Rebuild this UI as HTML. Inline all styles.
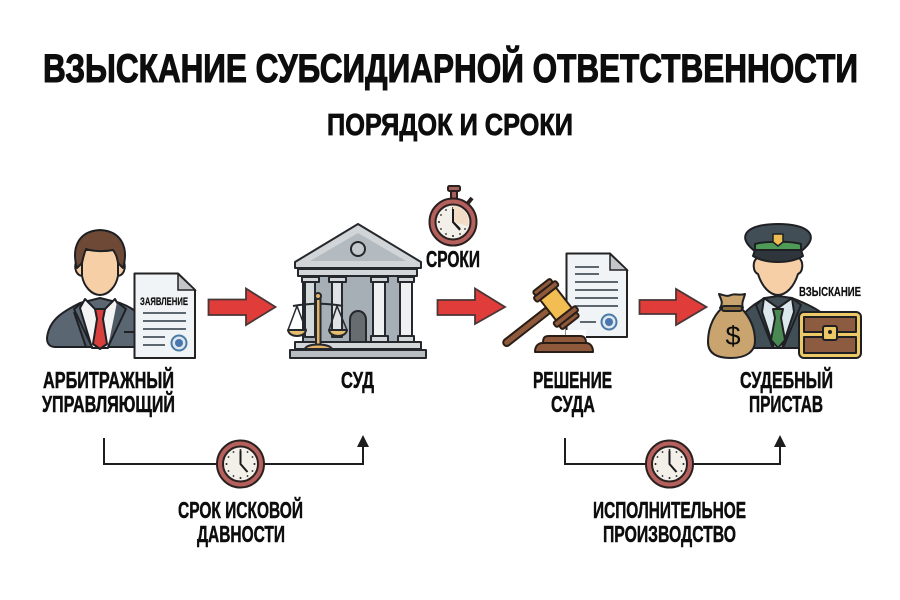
<!DOCTYPE html>
<html lang="ru"><head><meta charset="utf-8"><title>Взыскание субсидиарной ответственности</title>
<style>html,body{margin:0;padding:0;background:#fff}svg{display:block}
text{font-family:"Liberation Sans",sans-serif;font-weight:700;fill:#0d0d0d;stroke:#0d0d0d;stroke-width:.5px}</style></head>
<body>
<svg xmlns="http://www.w3.org/2000/svg" width="900" height="600" viewBox="0 0 900 600">
<defs>
<g id="clock">
<circle r="23.500" fill="#b5605c" stroke="#2a2020" stroke-width="2"/>
<circle r="17.500" fill="#f3efe9" stroke="#2a2020" stroke-width="2"/>
<g fill="#222"><circle cy="-14" r="1"/><circle cy="14" r="1"/><circle cx="-14" r="1"/><circle cx="14" r="1"/><circle cx="7" cy="-12" r=".9"/><circle cx="12" cy="-7" r=".9"/><circle cx="12" cy="7" r=".9"/><circle cx="7" cy="12" r=".9"/><circle cx="-7" cy="12" r=".9"/><circle cx="-12" cy="7" r=".9"/><circle cx="-12" cy="-7" r=".9"/><circle cx="-7" cy="-12" r=".9"/></g>
<path d="M0-13V0L7 8" fill="none" stroke="#1a1a1a" stroke-width="2"/>
</g>
</defs>
<rect width="900" height="600" fill="#fff"/>
<text x="43" y="82" font-size="40" textLength="815" lengthAdjust="spacingAndGlyphs" style="stroke-width:1.100px">ВЗЫСКАНИЕ СУБСИДИАРНОЙ ОТВЕТСТВЕННОСТИ</text>
<text x="327" y="135" font-size="31" textLength="246" lengthAdjust="spacingAndGlyphs" style="stroke-width:.8px">ПОРЯДОК И СРОКИ</text>

<!-- manager -->
<g stroke="#1f2024" stroke-width="2" stroke-linejoin="round">
<path d="M47 338C49 320 62 312 80 303L100 298L120 303C130 307 136 310 140 318V347H55C50 347 47 344 47 338Z" fill="#5a6672"/>
<path d="M85 299L100 314L115 299L120 308L108 348H92L80 308Z" fill="#f4f4f4"/>
<path d="M95 309H105L103 319L107 344L100 349L93 344L97 319Z" fill="#d8403e"/>
<path d="M83 302L74 309L92 347H86L74 312M117 302L126 309L108 347" fill="#4d5965"/>
<path d="M76 262C74 268 76 276 83 276H117C124 276 126 268 124 262Z" fill="#f6cfa7"/>
<path d="M82 250V276C84 287 92 295 100 295C108 295 116 287 118 276V250Z" fill="#f6cfa7"/>
<path d="M77 268C71 247 79 231 100 230C121 231 129 247 123 268L118 263C117 257 116 254 113 250C103 252 92 251 86 249C84 254 83 258 82 263Z" fill="#6e4a36"/>
</g>
<path d="M124 332H136" stroke="#1f2024" stroke-width="2"/>
<path d="M134.500 273.500H178L195 290V358H134.500Z" fill="#f1f4f6" stroke="#222" stroke-width="2" stroke-linejoin="round"/>
<path d="M178 274V290H195Z" fill="#c3c6c9" stroke="#222" stroke-width="1.500"/>
<text x="140" y="305" font-size="11" textLength="48" lengthAdjust="spacingAndGlyphs" style="stroke-width:.15px">ЗАЯВЛЕНИЕ</text>
<path d="M143 313H186M143 321H186M143 329H186M143 337H165M143 345H165" stroke="#5d6770" stroke-width="2"/>
<circle cx="179" cy="343" r="7.500" fill="#dfe8f0" stroke="#4a7ba8" stroke-width="2"/><circle cx="179" cy="343" r="4" fill="#4a75ad"/>
<text x="43" y="388" font-size="23" textLength="131" lengthAdjust="spacingAndGlyphs">АРБИТРАЖНЫЙ</text>
<text x="42" y="412" font-size="23" textLength="133" lengthAdjust="spacingAndGlyphs">УПРАВЛЯЮЩИЙ</text>

<!-- arrows -->
<g fill="#e03c3a" stroke="#4a3636" stroke-width="1.800" stroke-linejoin="miter">
<path d="M208.500 299.500H246V288.500L275.500 307L246 325V315H208.500Z"/>
<path d="M437.500 300H475V288.500L505 307L475 324V315H437.500Z"/>
<path d="M639.500 300H676V289L706.500 307L676 325V314H639.500Z"/>
</g>

<!-- court -->
<g stroke="#25282c" stroke-width="2" stroke-linejoin="round">
<rect x="303" y="276" width="109" height="66" fill="#a6afb6"/>
<rect x="305" y="282" width="10" height="55" fill="#d3d8db"/><rect x="332" y="282" width="10" height="55" fill="#dfe3e6"/>
<rect x="373" y="282" width="12" height="55" fill="#eef0f2"/><rect x="400" y="282" width="12" height="55" fill="#eef0f2"/>
<path d="M302 277h17v5h-17zM329 277h17v5h-17zM371 277h17v5h-17zM398 277h16v5h-16zM371 336h17v6h-17zM398 336h16v6h-16z" fill="#d3d7da"/>
<path d="M350 342V320C350 308 366 308 366 320V342Z" fill="#676c70"/>
<rect x="298" y="269" width="119" height="7" fill="#d3d7da"/>
<path d="M358 224L421 262V268H295V262Z" fill="#d1d5d8"/>
<path d="M358 233L406 261H310Z" fill="#b4bbc0" stroke="none"/>
<circle cx="358" cy="249" r="7" fill="#c3c9cd"/>
<rect x="295" y="342" width="126" height="7" fill="#d3d7da"/>
<rect x="290" y="350" width="136" height="8" fill="#b8bdc1"/>
<path d="M293 306C310 303 327 303 343 306" fill="none"/>
<path d="M297 306L288 330H306ZM337 306L329 330H347Z" fill="none" stroke-width="1.500"/>
<path d="M288 330H306C305 338 289 338 288 330ZM329 330H347C346 338 330 338 329 330Z" fill="#e6bd6d"/>
<rect x="316" y="296" width="4.500" height="50" fill="#e3b36a"/><circle cx="318" cy="296" r="3" fill="#e3b36a"/>
<path d="M305 349C306 343 330 343 332 349Z" fill="#e3b36a"/>
</g>
<text x="341" y="388" font-size="23" textLength="33" lengthAdjust="spacingAndGlyphs">СУД</text>

<!-- stopwatch -->
<g stroke="#2a2020" stroke-width="2" stroke-linejoin="round">
<rect x="451" y="190" width="6" height="9" fill="#a3625c"/>
<rect x="448" y="186" width="12" height="5" rx="1.500" fill="#a3625c"/>
<path d="M468 203L472 198" stroke-width="4"/>
</g>
<use href="#clock" x="453" y="222"/>
<path d="M453 222V206A16 16 0 0 1 468 226Z" fill="#f3dcc6"/>
<path d="M453 209V222L460 229" fill="none" stroke="#1a1a1a" stroke-width="2"/>
<text x="426" y="267" font-size="23" textLength="54" lengthAdjust="spacingAndGlyphs">СРОКИ</text>

<!-- decision -->
<path d="M566.500 253.500H610L627 270V337H566.500Z" fill="#f1f4f6" stroke="#222" stroke-width="2" stroke-linejoin="round"/>
<path d="M610 254V270H627Z" fill="#c3c6c9" stroke="#222" stroke-width="1.500"/>
<path d="M575 267H599M575 274H599M575 282H618M575 290H618M575 298H618M575 306H618M580 322H596" stroke="#5d6770" stroke-width="2"/>
<circle cx="609" cy="322" r="7.500" fill="#dfe8f0" stroke="#4a7ba8" stroke-width="2"/><circle cx="609" cy="322" r="4" fill="#4a75ad"/>
<rect x="566" y="330" width="20" height="8" fill="#fff"/>
<g stroke="#2a1d15" stroke-width="2" stroke-linejoin="round">
<g transform="translate(556 304) rotate(-38)">
<rect x="-66" y="-3.500" width="60" height="7" rx="3.500" fill="#8f5a3c"/>
<rect x="-10" y="-13" width="20" height="26" fill="#f2bd52"/>
<rect x="-14" y="-19" width="28" height="6" rx="2" fill="#8f5a3c"/>
<rect x="-11" y="-24" width="22" height="5" rx="2" fill="#8f5a3c"/>
<rect x="-14" y="13" width="28" height="6" rx="2" fill="#8f5a3c"/>
<rect x="-11" y="19" width="22" height="5" rx="2" fill="#8f5a3c"/>
</g>
<path d="M543 343C543 337 545 336 549 336H580C584 336 586 338 586 343Z" fill="#8f5a3c"/>
<path d="M535 352C535 346 538 343 543 343H586C590 343 593 346 593 352Z" fill="#8f5a3c"/>
</g>
<text x="533" y="388" font-size="23" textLength="79" lengthAdjust="spacingAndGlyphs">РЕШЕНИЕ</text>
<text x="551" y="412" font-size="23" textLength="44" lengthAdjust="spacingAndGlyphs">СУДА</text>

<!-- bailiff -->
<g stroke="#1f2024" stroke-width="2" stroke-linejoin="round">
<path d="M742 348V316C750 306 760 301 765 298L778 296L792 298C805 303 816 308 823 314V348Z" fill="#414e56"/>
<path d="M764 298L778 308L792 298L794 312L782 348H774L762 312Z" fill="#dce8ec"/>
<path d="M773 309H783L781 318L785 340L778 348L771 340L775 318Z" fill="#4a8a52"/>
<path d="M764 298L756 305L773 348M792 298L801 305L783 348" fill="none"/>
<path d="M757 258C752 262 753 272 758 274C762 287 770 295 778 295C786 295 794 287 798 274C803 272 804 262 799 258Z" fill="#f6cfa7"/>
<path d="M756 252C748 246 743 240 746 234C750 226 766 224 778 224C790 224 806 226 810 234C813 240 808 246 800 252Z" fill="#414e56"/>
<path d="M755 251V244C765 241 791 241 801 244V251Z" fill="#4f9a57"/>
<path d="M755 250H801L803 256C790 264 766 264 753 256Z" fill="#2e363b"/>
<path d="M773 234H783V242L778 246L773 242Z" fill="#edbd52" stroke-width="1.500"/>
</g>
<text x="799" y="296" font-size="13" textLength="62" lengthAdjust="spacingAndGlyphs" style="stroke-width:.2px">ВЗЫСКАНИЕ</text>
<g stroke="#1f2024" stroke-width="2" stroke-linejoin="round">
<path d="M722 308C711 318 708 332 708 342C708 353 716 358 731 358C747 358 755 351 755 341C755 330 751 318 741 308Z" fill="#c9a46e"/>
<path d="M720 308C724 302 720 298 719 294C724 295 727 297 731 295C735 293 739 296 745 294C744 299 741 303 743 308Z" fill="#c9a46e"/>
<rect x="722" y="306" width="20" height="5" rx="2" fill="#8b6a3d"/>
</g>
<text x="733" y="345" font-size="27" text-anchor="middle" style="font-weight:400;stroke-width:0">$</text>
<g stroke="#1f2024" stroke-width="2" stroke-linejoin="round">
<rect x="799" y="312" width="62" height="46" rx="5" fill="#ecc867"/>
<rect x="804" y="317" width="52" height="15" fill="#8d5c40"/>
<rect x="804" y="337" width="52" height="16" fill="#8d5c40"/>
<rect x="823" y="326" width="14" height="14" rx="2" fill="#ecc867"/>
</g>
<circle cx="830" cy="332" r="2" fill="#1f2024"/>
<text x="740" y="388" font-size="23" textLength="93" lengthAdjust="spacingAndGlyphs">СУДЕБНЫЙ</text>
<text x="749" y="412" font-size="23" textLength="74" lengthAdjust="spacingAndGlyphs">ПРИСТАВ</text>

<!-- timelines -->
<path d="M104 438V464H363V445" fill="none" stroke="#1d1d1d" stroke-width="2"/>
<path d="M363 435L369 447H357Z" fill="#1d1d1d"/>
<use href="#clock" x="240.500" y="464"/>
<path d="M565 438V464H780V445" fill="none" stroke="#1d1d1d" stroke-width="2"/>
<path d="M780 435L786 447H774Z" fill="#1d1d1d"/>
<use href="#clock" x="669.500" y="464"/>
<text x="178" y="518" font-size="23" textLength="125" lengthAdjust="spacingAndGlyphs">СРОК ИСКОВОЙ</text>
<text x="197" y="542" font-size="23" textLength="88" lengthAdjust="spacingAndGlyphs">ДАВНОСТИ</text>
<text x="593" y="518" font-size="23" textLength="153" lengthAdjust="spacingAndGlyphs">ИСПОЛНИТЕЛЬНОЕ</text>
<text x="603" y="542" font-size="23" textLength="133" lengthAdjust="spacingAndGlyphs">ПРОИЗВОДСТВО</text>
</svg>
</body></html>
